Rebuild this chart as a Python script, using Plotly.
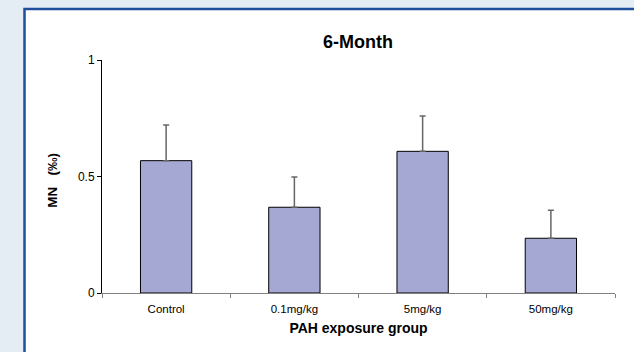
import plotly.graph_objects as go

categories = ["Control", "0.1mg/kg", "5mg/kg", "50mg/kg"]
mn_values = [0.568, 0.368, 0.608, 0.235]
mn_errors = [0.153, 0.130, 0.152, 0.120]
y_ticks = [0, 0.5, 1]
y_tick_labels = ["0", "0.5", "1"]

W, H = 634, 352
L, R, T, B = 102, 19, 60, 59
pw, ph = W - L - R, H - T - B

def px_x(p):
    return (p - L) / pw

def px_y(p):
    return (H - B - p) / ph

fig = go.Figure()
fig.add_trace(go.Bar(
    x=categories, y=mn_values, width=0.4,
    marker=dict(color="#a6a8d4", line=dict(color="#000000", width=1)),
    error_y=dict(type="data", array=mn_errors, arrayminus=[0]*len(mn_errors),
                 symmetric=False, color="#666666", thickness=1.5, width=3),
))

fig.add_shape(type="rect", xref="paper", yref="paper",
              x0=px_x(24.5), x1=px_x(645), y0=px_y(9), y1=px_y(370),
              fillcolor="white", line=dict(color="#1f4f9c", width=2.5), layer="below")

font = "Liberation Sans, Arial, sans-serif"
fig.update_layout(
    width=W, height=H,
    margin=dict(l=L, r=R, t=T, b=B),
    paper_bgcolor="#e4ecf4", plot_bgcolor="rgba(0,0,0,0)",
    showlegend=False,
    font=dict(family=font, color="#000000"),
    title=dict(text="<b>6-Month</b>", x=358 / W, xanchor="center", xref="container",
               y=1 - 42 / H, yref="container", yanchor="middle",
               font=dict(size=18, family=font, color="#000000")),
    bargap=0.6,
)
fig.update_xaxes(
    type="category", tickson="boundaries", ticks="outside", ticklen=4,
    tickcolor="#808080", tickwidth=1.2, ticklabelstandoff=5,
    showline=True, linecolor="#808080", linewidth=1.2, showgrid=False,
    tickfont=dict(size=11.5, family=font),
    title=dict(text="<b>PAH exposure group</b>", font=dict(size=14, family=font), standoff=9),
    range=[-0.5, 3.5],
)
fig.update_yaxes(
    range=[0, 1], tickvals=y_ticks, ticktext=y_tick_labels,
    ticks="outside", ticklen=4, tickcolor="#000000", tickwidth=1,
    showline=True, linecolor="#000000", linewidth=1, showgrid=False, zeroline=False,
    tickfont=dict(size=12, family=font),
    title=dict(text="<b>MN   (‰)\u00a0\u00a0</b>", font=dict(size=13.5, family=font), standoff=17),
)

fig.write_html("out.html", config={"displayModeBar": False},
               post_script="document.body.style.margin='0';document.body.style.overflow='hidden';")
